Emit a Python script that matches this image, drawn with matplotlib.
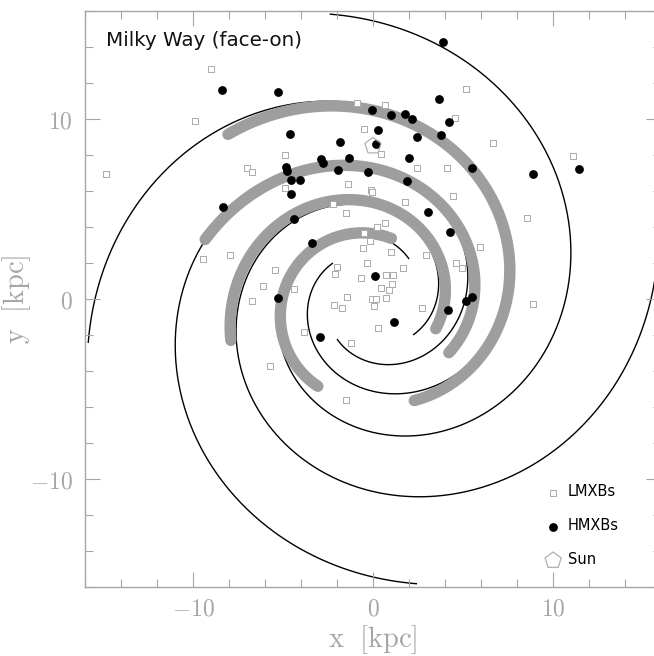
import numpy as np
import matplotlib
matplotlib.use("Agg")
import matplotlib.pyplot as plt
from matplotlib.ticker import MultipleLocator, FuncFormatter

plt.rcParams["mathtext.fontset"] = "cm"

# ---------------------------------------------------------------------------
# Model spiral arms: logarithmic spirals r = r_ref * exp(k * theta)
arm_r_ref = [3.55, 5.127, 7.405, 10.70]   # radius of each arm at theta = 0 [kpc]
arm_k = 0.234                             # tan(pitch angle), ~13 deg
arm_r_inner = 3.0                         # arms start here [kpc]
arm_r_outer = 16.0                        # and end here [kpc]

# Observed arm tracers (theta [rad], r [kpc])
arc1_theta = [2.293, 2.112, 1.838, 1.805, 1.571, 1.304, 0.955, 0.238, 0.0, -0.482, -0.890, -1.185]
arc1_r     = [12.0, 11.82, 11.17, 11.08, 10.65, 9.92, 9.00, 7.64, 7.43, 6.92, 6.50, 5.96]

arc2_theta = [2.801, 2.446, 2.141, 1.937, 1.877, 1.595, 1.286, 1.031, 0.524, 0.0, -0.278, -0.616]
arc2_r     = [9.51, 9.15, 8.52, 8.17, 7.91, 7.17, 6.79, 5.95, 6.02, 6.04, 5.60, 4.90]

arc3_theta = [3.425, 3.1416, 2.724, 2.361, 1.986, 1.424, 0.773, 0.0, -0.443]
arc3_r     = [8.17, 7.81, 7.17, 6.49, 5.91, 5.19, 4.43, 4.10, 3.81]

arc4_theta = [1.276, 1.880, 2.200, 2.318, 2.438, 2.805, 3.1416, 3.402, 3.852, 4.149]
arc4_r     = [3.58, 3.60, 4.06, 4.33, 4.35, 4.88, 4.98, 5.25, 5.47, 5.87]

# Low-mass X-ray binaries [kpc]
lmxb_x = [-9.00, -9.89, -14.85, -4.89, -7.02, -6.70, -4.91, -1.37, -0.11, -0.05,
          -1.50, -2.20, 0.20, -0.50, -0.17, -0.57, -9.47, -7.94, -5.43, -6.13,
          -6.70, -4.40, -2.02, -2.11, -0.35, -0.65, -1.46, -2.18, -1.74, -0.05,
          0.06, 0.15, 0.70, 0.70, 1.09, 1.07, 0.43, 0.89, 2.43, 4.12,
          1.78, 4.46, 0.67, 0.98, 2.94, 4.63, 4.93, 1.67, 2.70, 8.91,
          8.54, 5.94, 5.17, 4.56, 6.69, 11.10, -0.90, 0.67, -0.51, 0.42,
          -3.83, -1.20, 0.30, -5.72, -1.48]
lmxb_y = [12.78, 9.90, 6.94, 8.00, 7.30, 7.05, 6.16, 6.41, 6.04, 5.95,
          4.80, 5.30, 4.02, 3.65, 3.24, 2.81, 2.20, 2.44, 1.61, 0.70,
          -0.10, 0.58, 1.79, 1.40, 2.01, 1.15, 0.12, -0.35, -0.48, 0.02,
          -0.38, -0.02, 0.05, 1.33, 1.33, 0.83, 0.63, 0.50, 7.30, 7.30,
          5.41, 5.72, 4.20, 2.63, 2.44, 2.00, 1.71, 1.71, -0.50, -0.28,
          4.48, 2.91, 11.66, 10.07, 8.65, 7.96, 10.87, 10.78, 9.42, 8.08,
          -1.81, -2.42, -1.61, -3.74, -5.61]

# High-mass X-ray binaries [kpc]
hmxb_x = [-8.41, -5.26, 3.91, 3.67, 4.22, 3.78, 2.46, 2.02, -0.04, 1.02,
          1.78, 2.15, 0.30, 0.18, -1.85, -1.33, -4.61, -2.90, -2.80, -4.83,
          -4.80, -1.96, -0.30, -4.57, -4.06, -4.57, -8.31, -4.37, -3.41, 0.10,
          -5.30, -2.94, 1.17, 4.15, 5.15, 5.48, 1.87, 3.07, 4.28, 5.48,
          8.87, 11.43]
hmxb_y = [11.61, 11.52, 14.30, 11.13, 9.83, 9.09, 8.98, 7.85, 10.50, 10.20,
          10.30, 10.02, 9.37, 8.59, 8.74, 7.85, 9.15, 7.76, 7.54, 7.35,
          7.13, 7.17, 7.05, 6.59, 6.59, 5.85, 5.13, 4.43, 3.13, 1.26,
          0.04, -2.09, -1.30, -0.61, -0.11, 0.13, 6.56, 4.82, 3.74, 7.26,
          6.93, 7.20]

sun_x, sun_y = [0.0], [8.5]

# ---------------------------------------------------------------------------
fig = plt.figure(figsize=(6.54, 6.56), dpi=100)
ax = fig.add_axes([85 / 654, (656 - 587) / 656, 576 / 654, 576 / 656])

# thin model arms
for r_ref in arm_r_ref:
    t0 = np.log(arm_r_inner / r_ref) / arm_k
    t1 = np.log(arm_r_outer / r_ref) / arm_k
    t = np.linspace(t0, t1, 600)
    r = r_ref * np.exp(arm_k * t)
    ax.plot(r * np.cos(t), r * np.sin(t), color="black", lw=1.0, zorder=1)

# thick traced arm segments
for th, rr in [(arc1_theta, arc1_r), (arc2_theta, arc2_r),
               (arc3_theta, arc3_r), (arc4_theta, arc4_r)]:
    th = np.asarray(th)
    coef = np.polyfit(th, np.log(rr), 3)
    t = np.linspace(th.min(), th.max(), 400)
    r = np.exp(np.polyval(coef, t))
    ax.plot(r * np.cos(t), r * np.sin(t), color="#9e9e9e", lw=8.2,
            solid_capstyle="round", zorder=2)

h_l = ax.scatter(lmxb_x, lmxb_y, marker="s", s=22, facecolors="white",
                 edgecolors="#ababab", linewidths=0.7, zorder=3, label="LMXBs")
h_h = ax.scatter(hmxb_x, hmxb_y, marker="o", s=40, color="black",
                 linewidths=0, zorder=4, label="HMXBs")
h_s = ax.scatter(sun_x, sun_y, marker="p", s=150, facecolors="none",
                 edgecolors="#b0b0b0", linewidths=0.9, zorder=5, label="Sun")

ax.set_xlim(-16, 16)
ax.set_ylim(-16, 16)

gray = "#a6a6a6"
for sp in ax.spines.values():
    sp.set_color(gray)
    sp.set_linewidth(1.0)
ax.xaxis.set_major_locator(MultipleLocator(10))
ax.yaxis.set_major_locator(MultipleLocator(10))
ax.xaxis.set_minor_locator(MultipleLocator(2))
ax.yaxis.set_minor_locator(MultipleLocator(2))
fmt = FuncFormatter(lambda v, p: r"$%d$" % round(v))
ax.xaxis.set_major_formatter(fmt)
ax.yaxis.set_major_formatter(fmt)
ax.tick_params(which="both", direction="in", top=True, right=True,
               color=gray, labelcolor=gray, labelsize=17, width=0.8)
ax.tick_params(which="major", length=11)
ax.tick_params(axis="x", which="major", pad=7)
ax.tick_params(axis="y", which="major", pad=9)
ax.tick_params(which="minor", length=6)

ax.set_xlabel(r"$\mathrm{x\ \ [kpc]}$", fontsize=20.5, color=gray)
ax.set_ylabel(r"$\mathrm{y\ \ [kpc]}$", fontsize=20.5, color=gray)
ax.xaxis.set_label_coords(0.5, -0.062)
ax.yaxis.set_label_coords(-0.09, 0.5)

ax.text(0.036, 0.948, "Milky Way (face-on)", transform=ax.transAxes,
        fontsize=14.3, ha="left", va="center", color="#111111")

ax.legend(handles=[h_l, h_h, h_s], loc="lower left",
          bbox_to_anchor=(0.79, 0.024), frameon=False, fontsize=10.5,
          labelspacing=1.3, handletextpad=0.5, handlelength=1.0,
          borderaxespad=0)

fig.savefig("out.png", dpi=100)
